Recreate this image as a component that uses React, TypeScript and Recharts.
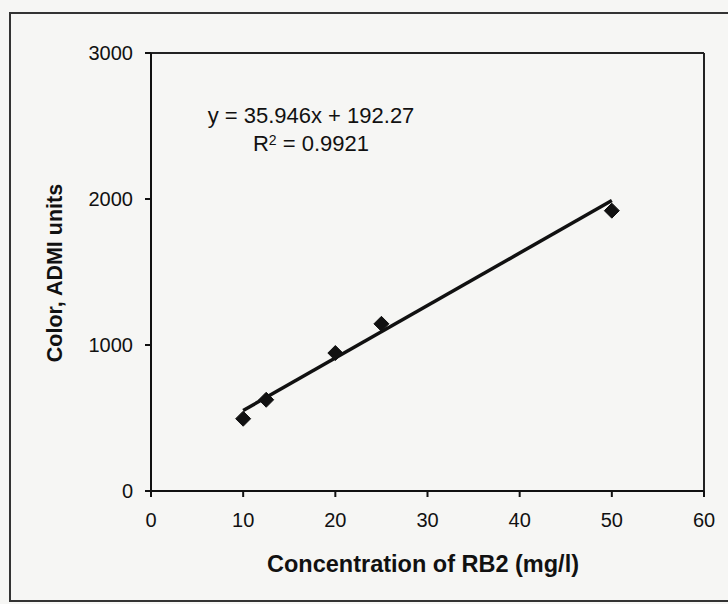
import React from 'react';
import { ScatterChart, Scatter, XAxis, YAxis, ReferenceLine } from 'recharts';

// measured points
const concentration = [10, 12.5, 20, 25, 50];
const color = [495, 625, 945, 1145, 1920];

// linear fit drawn across the data range
const fitX = [10, 50];
const fitY = [551.7, 1989.6];

const xTicks = [0, 10, 20, 30, 40, 50, 60];
const yTicks = [0, 1000, 2000, 3000];

const points = concentration.map((x, i) => ({ x, y: color[i] }));
const fit = fitX.map((x, i) => ({ x, y: fitY[i] }));

const FONT = '"Liberation Sans", Arial, sans-serif';

const Diamond = (props: any) => {
  const { cx, cy } = props;
  if (cx == null || cy == null) return null;
  const r = 7.5;
  return (
    <path
      d={`M${cx},${cy - r} L${cx + r},${cy} L${cx},${cy + r} L${cx - r},${cy} Z`}
      fill="#111"
      stroke="#111"
    />
  );
};

const NoDot = () => <g />;

export default function App() {
  return (
    <div style={{ position: 'absolute', left: 0, top: 0, width: 728, height: 604, background: '#f6f6f4', fontFamily: FONT, overflow: 'hidden' }}>
      <div
        style={{
          position: 'absolute',
          left: 9,
          top: 12,
          width: 740,
          height: 586,
          border: '2px solid #333',
        }}
      />
      <ScatterChart
        width={728}
        height={604}
        margin={{ top: 53, right: 24, bottom: 83, left: 85 }}
        style={{ position: 'absolute', left: 0, top: 0 }}
      >
        <XAxis
          type="number"
          dataKey="x"
          domain={[0, 60]}
          ticks={xTicks}
          height={30}
          stroke="#111"
          strokeWidth={2}
          tickSize={6}
          tickMargin={16}
          tick={{ fill: '#111', fontSize: 20, fontFamily: FONT }}
        />
        <YAxis
          type="number"
          dataKey="y"
          domain={[0, 3000]}
          ticks={yTicks}
          width={66}
          stroke="#111"
          strokeWidth={2}
          tickSize={6}
          tickMargin={12}
          tick={{ fill: '#111', fontSize: 20, fontFamily: FONT }}
        />
        <ReferenceLine y={3000} stroke="#222" strokeWidth={2} />
        <ReferenceLine x={60} stroke="#222" strokeWidth={2} />
        <Scatter
          data={fit}
          line={{ stroke: '#111', strokeWidth: 3.5 }}
          shape={NoDot}
          isAnimationActive={false}
        />
        <Scatter data={points} shape={Diamond} isAnimationActive={false} />
      </ScatterChart>
      <div
        style={{
          position: 'absolute',
          left: 55,
          top: 273,
          transform: 'translate(-50%, -50%) rotate(-90deg)',
          whiteSpace: 'nowrap',
          fontWeight: 'bold',
          fontSize: 21.5,
          color: '#111',
        }}
      >
        Color, ADMI units
      </div>
      <div
        style={{
          position: 'absolute',
          left: 423,
          top: 564,
          transform: 'translate(-50%, -50%)',
          whiteSpace: 'nowrap',
          fontWeight: 'bold',
          fontSize: 23.5,
          color: '#111',
        }}
      >
        Concentration of RB2 (mg/l)
      </div>
      <div
        style={{
          position: 'absolute',
          left: 311,
          top: 102,
          transform: 'translateX(-50%)',
          textAlign: 'center',
          whiteSpace: 'nowrap',
          fontSize: 22,
          lineHeight: '28px',
          color: '#111',
        }}
      >
        <div>y = 35.946x + 192.27</div>
        <div>
          R<sup style={{ fontSize: 14, verticalAlign: 'top', lineHeight: '20px' }}>2</sup> = 0.9921
        </div>
      </div>
    </div>
  );
}
